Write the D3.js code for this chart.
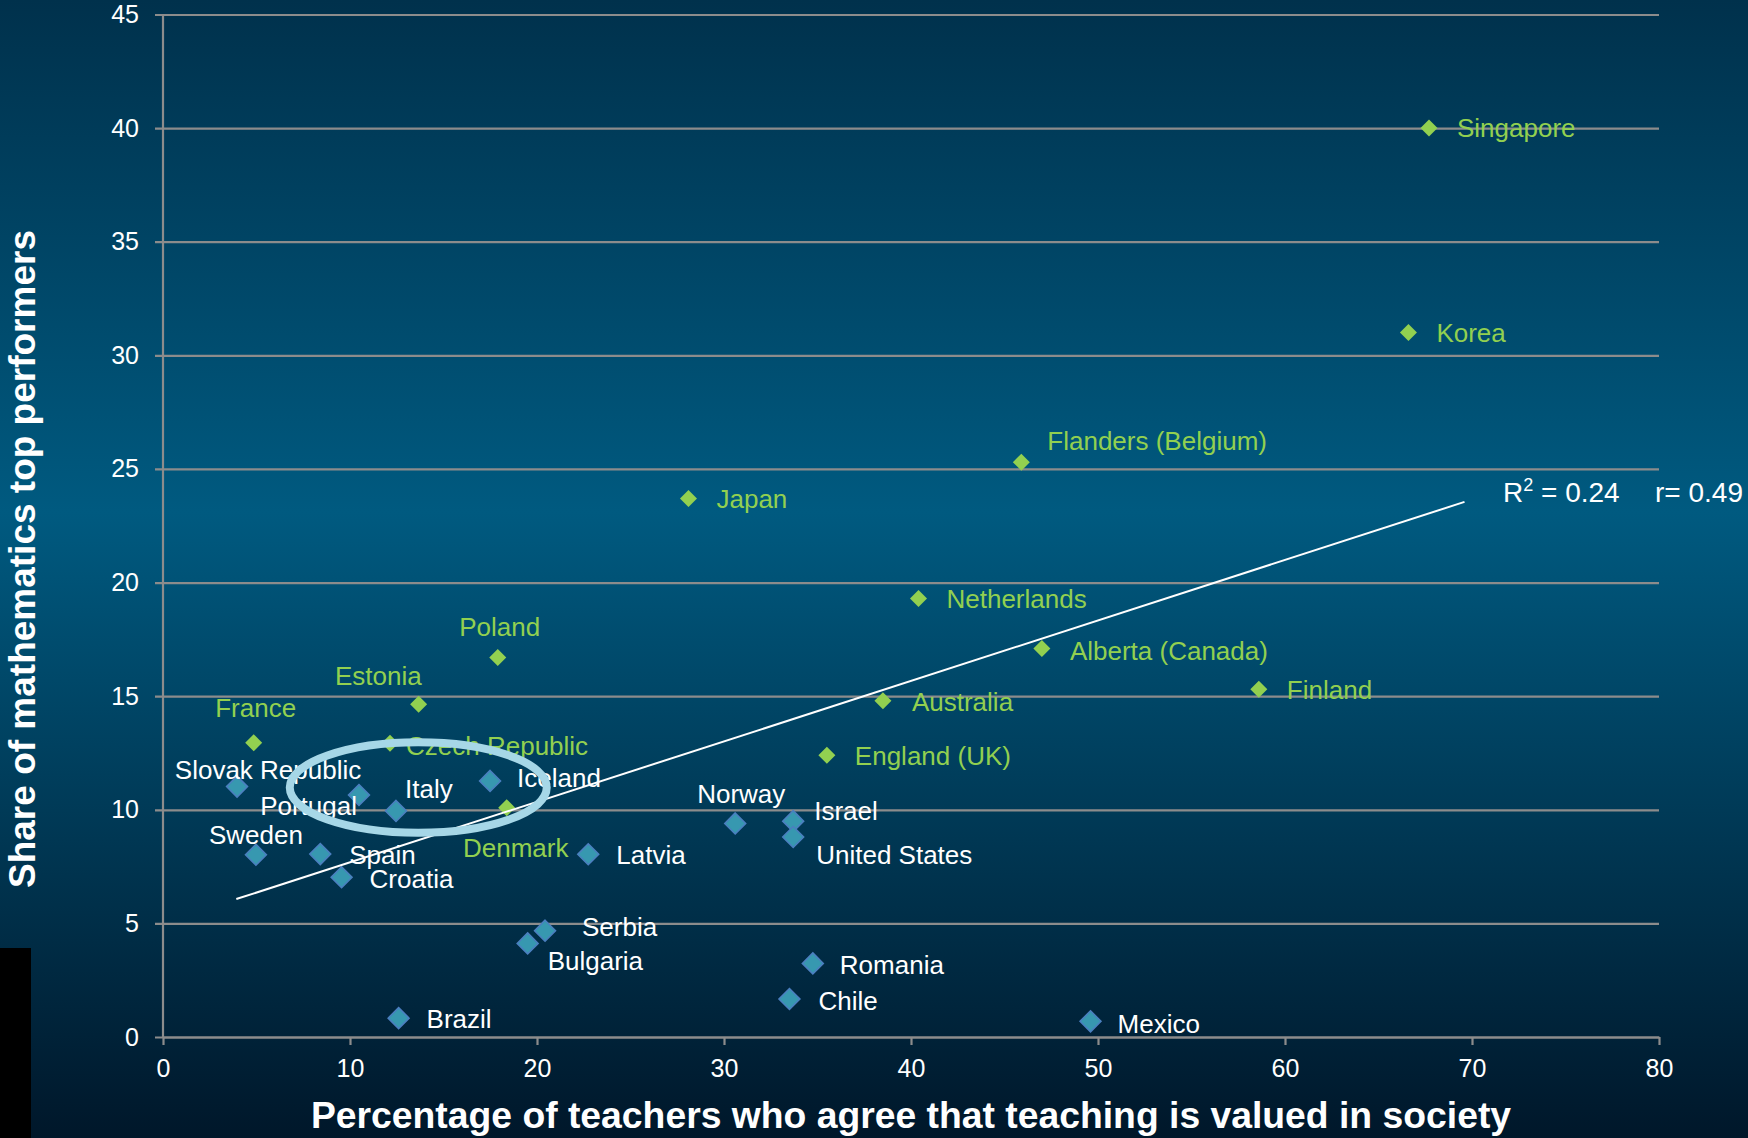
<!DOCTYPE html>
<html>
<head>
<meta charset="utf-8">
<script src="https://cdn.jsdelivr.net/npm/d3@7"></script>
<style>
  html, body { margin: 0; padding: 0; background: #00243a; }
  svg { display: block; font-family: "Liberation Sans", Arial, sans-serif; }
</style>
</head>
<body>
<svg id="chart" width="1748" height="1138"></svg>
<script>
// Countries / systems and their two indicators
const countries = [
  "Singapore", "Korea", "Flanders (Belgium)", "Japan", "Netherlands",
  "Alberta (Canada)", "Finland", "Australia", "England (UK)", "Poland",
  "Estonia", "France", "Czech Republic", "Denmark",
  "Slovak Republic", "Portugal", "Italy", "Iceland", "Sweden", "Spain",
  "Croatia", "Latvia", "Norway", "Israel", "United States", "Serbia",
  "Bulgaria", "Romania", "Chile", "Brazil", "Mexico"
];
// Percentage of teachers who agree that teaching is valued in society
const teachersValued = [
  67.7, 66.6, 45.9, 28.1, 40.4,
  47.0, 58.6, 38.5, 35.5, 17.9,
  13.67, 4.85, 12.14, 18.38,
  3.96, 10.48, 12.46, 17.49, 4.97, 8.41,
  9.55, 22.74, 30.6, 33.7, 33.7, 20.43,
  19.5, 34.75, 33.5, 12.6, 49.6
];
// Share of mathematics top performers
const topPerformers = [
  40.0, 31.0, 25.3, 23.7, 19.3,
  17.1, 15.3, 14.8, 12.4, 16.7,
  14.64, 12.95, 12.93, 10.09,
  11.02, 10.65, 9.95, 11.27, 8.02, 8.05,
  7.03, 8.04, 9.4, 9.5, 8.8, 4.68,
  4.12, 3.24, 1.67, 0.83, 0.69
];
// "top" = systems drawn in green, "other" = drawn in blue
const groups = [
  "top", "top", "top", "top", "top",
  "top", "top", "top", "top", "top",
  "top", "top", "top", "top",
  "other", "other", "other", "other", "other", "other",
  "other", "other", "other", "other", "other", "other",
  "other", "other", "other", "other", "other"
];

const xTicks = [0, 10, 20, 30, 40, 50, 60, 70, 80];
const yTicks = [0, 5, 10, 15, 20, 25, 30, 35, 40, 45];

// Linear trend line end points
const trendX = [3.92, 69.6];
const trendY = [6.07, 23.55];
const fitLabel = { r2: "0.24", r: "0.49" };

// Highlighted group (centre and radii in data units)
const highlight = { cx: 13.65, cy: 10.98, rx: 6.87, ry: 1.99 };

// Label placement relative to each marker: [anchor, dx, dy]
const labelPlacement = [
  ["start", 28, 0], ["start", 28, 0], ["start", 26, -21], ["start", 28, 0], ["start", 28, 0],
  ["start", 28, 2], ["start", 28, 1], ["start", 29, 1], ["start", 28, 1], ["middle", 2, -31],
  ["end", 3, -28], ["middle", 2, -35], ["start", 16, 3], ["middle", 9, 40],
  ["middle", 31, -17], ["end", -2, 11], ["start", 9, -22], ["start", 27, -3], ["middle", 0, -20], ["start", 29, 1],
  ["start", 28, 2], ["start", 28, 1], ["middle", 6, -30], ["start", 21, -10], ["start", 23, 18], ["start", 37, -4],
  ["start", 20, 18], ["start", 27, 2], ["start", 29, 2], ["start", 28, 1], ["start", 27, 3]
];

const W = 1748, H = 1138;
const margin = { left: 163, right: 89, top: 14.5, bottom: 101 };
const green = "#92d050";
const blueFill = "#3798b0";
const blueStroke = "#4b7fc0";
const gridColor = "#8c8c8c";

const svg = d3.select("#chart");
const defs = svg.append("defs");
const bg = defs.append("linearGradient").attr("id", "bg")
  .attr("x1", 0).attr("y1", 0).attr("x2", 0).attr("y2", 1);
bg.append("stop").attr("offset", "0%").attr("stop-color", "#00314c");
bg.append("stop").attr("offset", "45%").attr("stop-color", "#005a80");
bg.append("stop").attr("offset", "100%").attr("stop-color", "#00172a");

svg.append("rect").attr("width", W).attr("height", H).attr("fill", "url(#bg)");
svg.append("rect").attr("x", 0).attr("y", 948).attr("width", 31).attr("height", H - 948).attr("fill", "#000");

const x = d3.scaleLinear().domain([0, 80]).range([margin.left, W - margin.right]);
const y = d3.scaleLinear().domain([0, 45]).range([H - margin.bottom, margin.top]);

// Horizontal gridlines with y axis
const yAxis = d3.axisLeft(y).tickValues(yTicks).tickSize(-(x(80) - x(0))).tickPadding(24).tickSizeOuter(0);
const gy = svg.append("g").attr("transform", `translate(${x(0)},0)`).call(yAxis);
gy.select(".domain").remove();
gy.selectAll(".tick line").attr("stroke", gridColor).attr("stroke-width", 2.2)
  .attr("x1", -8);
gy.selectAll(".tick text").attr("fill", "#fff").attr("font-size", 25)
  .attr("font-family", "Liberation Sans, Arial, sans-serif").attr("x", -24);

// Vertical axis line
svg.append("line").attr("x1", x(0)).attr("x2", x(0)).attr("y1", y(45)).attr("y2", y(0))
  .attr("stroke", gridColor).attr("stroke-width", 2.2);

// X axis
const xAxis = d3.axisBottom(x).tickValues(xTicks).tickSize(8).tickPadding(14).tickSizeOuter(0);
const gx = svg.append("g").attr("transform", `translate(0,${y(0)})`).call(xAxis);
gx.select(".domain").attr("stroke", gridColor).attr("stroke-width", 2.2);
gx.selectAll(".tick line").attr("stroke", gridColor).attr("stroke-width", 2.2);
gx.selectAll(".tick text").attr("fill", "#fff").attr("font-size", 25)
  .attr("font-family", "Liberation Sans, Arial, sans-serif");

// Axis titles
svg.append("text")
  .attr("x", (x(0) + x(80)) / 2).attr("y", 1128)
  .attr("text-anchor", "middle").attr("fill", "#fff")
  .attr("font-size", 37.3).attr("font-weight", "bold")
  .text("Percentage of teachers who agree that teaching is valued in society");

svg.append("text")
  .attr("transform", "translate(35,559) rotate(-90)")
  .attr("text-anchor", "middle").attr("fill", "#fff")
  .attr("font-size", 37).attr("font-weight", "bold")
  .text("Share of mathematics top performers");

const data = countries.map((c, i) => ({
  name: c, xv: teachersValued[i], yv: topPerformers[i], group: groups[i], place: labelPlacement[i]
}));

// Markers
const diamond = (r) => `M0,${-r}L${r},0L0,${r}L${-r},0Z`;
svg.append("g").selectAll("path").data(data).join("path")
  .attr("transform", d => `translate(${x(d.xv)},${y(d.yv)})`)
  .attr("d", d => d.group === "top" ? diamond(8.5) : diamond(10.5))
  .attr("fill", d => d.group === "top" ? green : blueFill)
  .attr("stroke", d => d.group === "top" ? "none" : blueStroke)
  .attr("stroke-width", 1.5);

// Trend line
svg.append("line")
  .attr("x1", x(trendX[0])).attr("y1", y(trendY[0]))
  .attr("x2", x(trendX[1])).attr("y2", y(trendY[1]))
  .attr("stroke", "#fff").attr("stroke-width", 2);

// Country labels
svg.append("g").selectAll("text").data(data).join("text")
  .attr("x", d => x(d.xv) + d.place[1])
  .attr("y", d => y(d.yv) + d.place[2])
  .attr("dy", "0.35em")
  .attr("text-anchor", d => d.place[0])
  .attr("fill", d => d.group === "top" ? green : "#fff")
  .attr("font-size", 26)
  .text(d => d.name);

// Fit statistics
const fit = svg.append("text").attr("x", 1503).attr("y", 502).attr("fill", "#fff").attr("font-size", 28);
fit.append("tspan").text("R");
fit.append("tspan").attr("font-size", 18).attr("dy", -11).text("2");
fit.append("tspan").attr("dy", 11).text(` = ${fitLabel.r2}`);
svg.append("text").attr("x", 1655).attr("y", 502).attr("fill", "#fff").attr("font-size", 28)
  .text(`r= ${fitLabel.r}`);

// Highlight ellipse
svg.append("ellipse")
  .attr("cx", x(highlight.cx)).attr("cy", y(highlight.cy))
  .attr("rx", x(highlight.rx) - x(0)).attr("ry", y(0) - y(highlight.ry))
  .attr("fill", "none").attr("stroke", "#a6d7e7").attr("stroke-width", 8);
</script>
</body>
</html>
